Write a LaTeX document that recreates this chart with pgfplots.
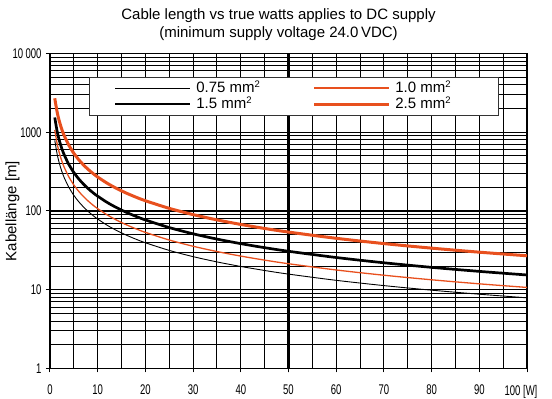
\documentclass[border=0pt]{standalone}
\usepackage{fontspec}
\setmainfont{Liberation Sans}
\newfontfamily\tickfont[FakeStretch=0.68]{Liberation Sans}
\usepackage{pgfplots}
\usepackage{pgfplotstable}
\pgfplotsset{compat=1.18}
\usetikzlibrary{calc}
\definecolor{corange}{RGB}{232,80,30}
\newcommand{\sq}{\raisebox{5pt}{\fontsize{9.5}{9.5}\selectfont 2}}

\pgfplotstableread{
P    a075   a10    a15     a25
1    790    1070   1540    2700
1.5  526.7  713.3  1026.7  1800
2    395    535    770     1350
2.5  316    428    616     1080
3    263.3  356.7  513.3   900
4    197.5  267.5  385     675
5    158    214    308     540
6    131.7  178.3  256.7   450
7    112.9  152.9  220     385.7
8    98.75  133.8  192.5   337.5
9    87.78  118.9  171.1   300
10   79     107    154     270
12   65.83  89.17  128.3   225
14   56.43  76.43  110     192.9
16   49.38  66.88  96.25   168.8
18   43.89  59.44  85.56   150
20   39.5   53.5   77      135
25   31.6   42.8   61.6    108
30   26.33  35.67  51.33   90
35   22.57  30.57  44      77.14
40   19.75  26.75  38.5    67.5
45   17.56  23.78  34.22   60
50   15.8   21.4   30.8    54
60   13.17  17.83  25.67   45
70   11.29  15.29  22      38.57
80   9.875  13.38  19.25   33.75
90   8.778  11.89  17.11   30
100  7.9    10.7   15.4    27
}\datatable

\begin{document}
\begin{tikzpicture}
\begin{axis}[
  name=ax,
  scale only axis,
  width=477pt, height=315pt,
  xmin=0, xmax=100, ymin=1, ymax=10000,
  ymode=log,
  xtick={0,10,...,100},
  minor xtick={5,15,...,95},
  ytick={1,10,100,1000,10000},
  minor ytick={2,3,4,5,6,7,8,9,20,30,40,50,60,70,80,90,200,300,400,500,600,700,800,900,2000,3000,4000,5000,6000,7000,8000,9000},
  xticklabels={0,10,20,30,40,50,60,70,\raisebox{-3pt}{80},90,\hspace*{-12pt}100 [W]},
  yticklabels={1,10,100,1000,10\,000},
  grid=both,
  major grid style={black, line width=1.1pt},
  minor grid style={black, line width=1pt},
  axis line style={black, line width=1.3pt},
  tick align=outside,
  xtick pos=bottom, ytick pos=left,
  major tick length=4pt, minor tick length=0pt,
  tick style={black, line width=1pt},
  xticklabel style={font=\fontsize{14}{14}\tickfont, yshift=-9pt},
  yticklabel style={font=\fontsize{14}{14}\tickfont, xshift=-1pt},
  extra x ticks={50},
  extra x tick labels={},
  extra x tick style={grid=major, major grid style={black, line width=2.2pt}},
  legend columns=2,
  legend cell align=left,
  legend image code/.code={
    \draw[#1] (0pt,0pt) -- (75pt,0pt);
    \path[draw=none, fill=none] (-26pt,0pt) (81pt,0pt);
  },
  legend style={
    at={(0.0818,0.9263)}, anchor=north west,
    draw=black!80, line width=0.6pt, fill=white,
    inner xsep=0pt, inner ysep=5pt,
    font=\fontsize{15}{15}\selectfont,
    nodes={inner sep=0pt, text height=10.5pt, text depth=1.5pt},
    row sep=4pt,
  },
]
\addplot[black, line width=0.9pt, smooth] table[x=P, y=a075] {\datatable};
\addlegendentry{\makebox[92pt][l]{0.75 mm\sq}}
\addplot[corange, line width=1.3pt, smooth] table[x=P, y=a10] {\datatable};
\addlegendentry{\makebox[103pt][l]{1.0 mm\sq}}
\addplot[black, line width=2.7pt, smooth] table[x=P, y=a15] {\datatable};
\addlegendentry{\makebox[92pt][l]{1.5 mm\sq}}
\addplot[corange, line width=3pt, smooth] table[x=P, y=a25] {\datatable};
\addlegendentry{\makebox[103pt][l]{2.5 mm\sq}}
\end{axis}
\node[anchor=base, font=\fontsize{15}{18}\selectfont] at ($(ax.north)+(-10pt,34.2pt)$) {Cable length vs true watts applies to DC supply};
\node[anchor=base, font=\fontsize{15}{18}\selectfont] at ($(ax.north)+(-10pt,15.8pt)$) {(minimum supply voltage 24.0\,VDC)};
\node[rotate=90, anchor=center, font=\fontsize{15}{18}\selectfont] at ($(ax.west)+(-37.5pt,0pt)$) {Kabellänge [m]};
\pgfresetboundingbox
\path[use as bounding box] ($(ax.south west)+(-50pt,-29.7pt)$) rectangle ($(ax.north east)+(25pt,53.5pt)$);
\end{tikzpicture}
\end{document}
